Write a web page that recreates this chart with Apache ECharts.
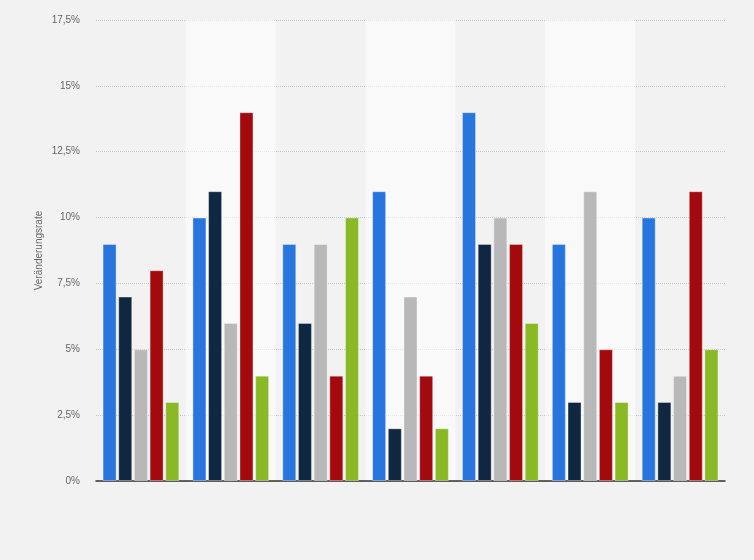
<!DOCTYPE html>
<html lang="de">
<head>
    <meta charset="UTF-8">
    <title>Veränderungsrate</title>
    <style>
        html, body { margin: 0; padding: 0; background: #f2f2f2; }
        #main { width: 754px; height: 560px; }
    </style>
    <script src="https://cdn.jsdelivr.net/npm/echarts@6/dist/echarts.min.js"></script>
</head>
<body>
    <div id="main"></div>
    <script>
        // Daten
        var categories = ['Gruppe 1', 'Gruppe 2', 'Gruppe 3', 'Gruppe 4', 'Gruppe 5', 'Gruppe 6', 'Gruppe 7'];
        var seriesNames = ['Reihe 1', 'Reihe 2', 'Reihe 3', 'Reihe 4', 'Reihe 5'];
        var serie1 = [9, 10, 9, 11, 14, 9, 10];
        var serie2 = [7, 11, 6, 2, 9, 3, 3];
        var serie3 = [5, 6, 9, 7, 10, 11, 4];
        var serie4 = [8, 14, 4, 4, 9, 5, 11];
        var serie5 = [3, 4, 10, 2, 6, 3, 5];
        var colors = ['#2876dd', '#0f2741', '#b8b8b8', '#a30a0e', '#89b924'];

        var chart = echarts.init(document.getElementById('main'));

        var allValues = [serie1, serie2, serie3, serie4, serie5];
        var series = allValues.map(function (vals, i) {
            return {
                name: seriesNames[i],
                type: 'bar',
                data: vals,
                barWidth: 14,
                barGap: '12%',
                itemStyle: {
                    color: colors[i],
                    borderColor: 'rgba(255,255,255,0.35)',
                    borderWidth: 1
                }
            };
        });

        var option = {
            backgroundColor: '#f2f2f2',
            animation: false,
            grid: { left: 96, right: 29, top: 20, bottom: 79 },
            xAxis: {
                type: 'category',
                data: categories,
                axisLine: { lineStyle: { color: '#333', width: 1.5 } },
                axisTick: { show: false },
                axisLabel: { show: false },
                splitArea: {
                    show: true,
                    areaStyle: { color: ['rgba(255,255,255,0)', 'rgba(255,255,255,0.55)'] }
                }
            },
            yAxis: {
                type: 'value',
                min: 0,
                max: 17.5,
                interval: 2.5,
                name: 'Veränderungsrate',
                nameLocation: 'middle',
                nameGap: 52,
                nameMoveOverlap: false,
                nameTextStyle: { color: '#666', fontSize: 10, fontFamily: 'Arial, Liberation Sans' },
                axisLine: { show: false },
                axisTick: { show: false },
                axisLabel: {
                    color: '#666',
                    fontSize: 10,
                    fontFamily: 'Arial, Liberation Sans',
                    margin: 16,
                    formatter: function (v) { return String(v).replace('.', ',') + '%'; }
                },
                splitLine: { lineStyle: { color: '#c8c8c8', type: 'dotted' } }
            },
            series: series
        };

        chart.setOption(option);
    </script>
</body>
</html>
